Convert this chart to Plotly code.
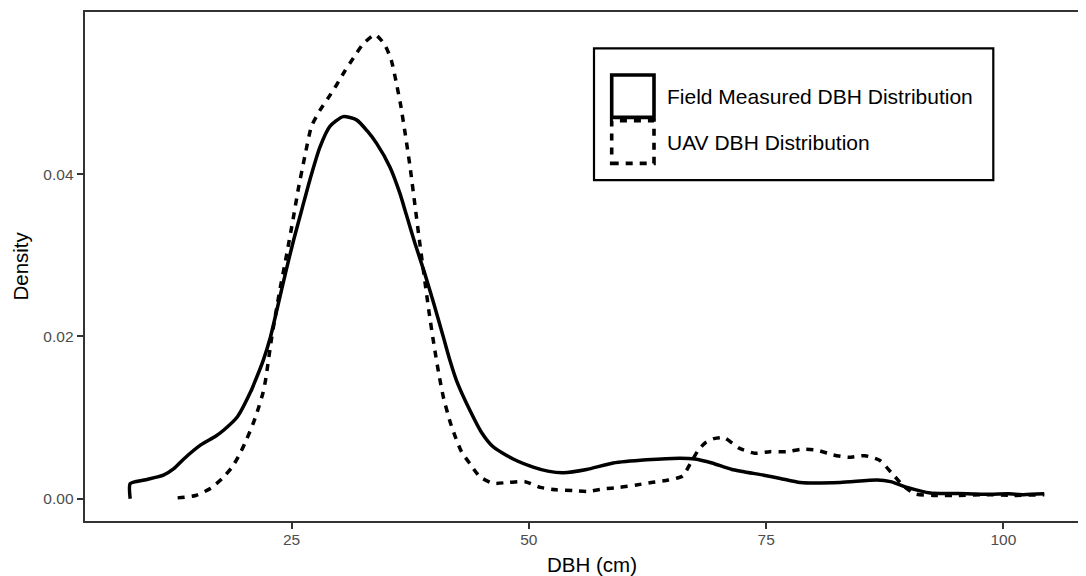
import plotly.graph_objects as go

# ---- data (kernel density curves) ----
field_x = [8.0, 8.0, 9.5, 11.5, 12.6, 13.65, 15.4, 17.0, 17.9, 19.3, 20.7, 21.2, 22.0, 22.75,
           23.6, 24.4, 25.2, 26.05, 26.93, 27.98, 29.04, 30.44, 31.85, 33.0, 33.96, 35.36,
           36.4, 37.1, 38.0, 39.0, 40.0, 41.0, 41.7, 42.37, 43.79, 45.0, 46.24, 48.35, 50.46,
           52.0, 53.62, 56.08, 58.89, 62.4, 65.9, 67.5, 69.3, 71.4, 74.75, 76.5, 78.6, 82.8,
           86.7, 88.1, 89.86, 92.3, 96.2, 98.6, 100.5, 102.1, 104.3]
field_y = [0.0, 0.00185, 0.0023, 0.0029, 0.0037, 0.0049, 0.0066, 0.0077, 0.0085, 0.0101, 0.0132,
           0.0146, 0.0170, 0.0198, 0.0240, 0.0280, 0.0318, 0.0355, 0.0393, 0.0433, 0.0459,
           0.0471, 0.0467, 0.0453, 0.0438, 0.0409, 0.0377, 0.0350, 0.0315, 0.0279, 0.0240,
           0.0199, 0.0170, 0.0146, 0.0109, 0.0082, 0.0064, 0.0049, 0.0039, 0.0034, 0.0032,
           0.0036, 0.0044, 0.0048, 0.0050, 0.0049, 0.0044, 0.0036, 0.0029, 0.0025, 0.0020,
           0.0020, 0.0023, 0.0021, 0.0014, 0.0007, 0.00062, 0.00055, 0.0006, 0.0005, 0.0006]

uav_x = [13.0, 14.9, 16.5, 17.7, 18.74, 19.63, 20.3, 21.03, 21.55, 21.98, 22.26, 22.9, 23.7,
         24.5, 25.17, 25.7, 26.4, 27.1, 28.0, 28.86, 29.74, 30.6, 31.5, 32.5, 33.8, 34.8,
         35.5, 36.0, 36.5, 37.0, 37.5, 38.0, 38.5, 39.0, 39.5, 40.0, 40.5, 41.0, 41.7, 42.2,
         42.9, 43.8, 44.85, 46.24, 47.8, 49.6, 51.2, 52.9, 54.7, 56.25, 57.8, 59.6, 61.35,
         62.9, 64.7, 66.2, 67.0, 67.8, 68.6, 69.5, 70.6, 72.2, 73.8, 75.4, 77.16, 78.74,
         80.3, 82.07, 83.65, 85.4, 87.0, 88.2, 89.45, 90.7, 92.6, 95.0, 98.0, 101.0, 104.3]
uav_y = [0.0001, 0.0004, 0.0013, 0.0025, 0.0039, 0.0057, 0.0074, 0.0095, 0.0113, 0.0130,
         0.0146, 0.0198, 0.0253, 0.0302, 0.0345, 0.0381, 0.0422, 0.0459, 0.0479, 0.0494,
         0.0510, 0.0527, 0.0543, 0.0560, 0.0572, 0.0560, 0.0541, 0.0515, 0.0485, 0.0448,
         0.0408, 0.0362, 0.0316, 0.0272, 0.0229, 0.0190, 0.0155, 0.0125, 0.0095, 0.0078,
         0.0058, 0.0043, 0.0027, 0.0019, 0.0020, 0.0021, 0.0014, 0.0011, 0.0010, 0.0009,
         0.0012, 0.0014, 0.0017, 0.0020, 0.0023, 0.0028, 0.0043, 0.0059, 0.0069, 0.0074,
         0.0075, 0.0062, 0.0056, 0.0058, 0.0058, 0.0061, 0.0060, 0.0054, 0.0051, 0.0053,
         0.0047, 0.0032, 0.0016, 0.0006, 0.0004, 0.0004, 0.0005, 0.0004, 0.0005]

series_names = ["Field Measured DBH Distribution", "UAV DBH Distribution"]
x_ticks = [25, 50, 75, 100]
y_ticks = [0.00, 0.02, 0.04]
y_tick_labels = ["0.00", "0.02", "0.04"]

# ---- layout geometry ----
# The page body has an 8px default margin, so the figure is drawn 8px right/down
# of the window corner. Positions below are given in window (screen) pixels.
OFF = 8
SW, SH = 1086, 576                      # window size
SL, SR, ST, SB = 85, 1086, 12, 520.7    # plot-area edges in window pixels
FW, FH = SW - OFF, SH - OFF             # figure size

def fx(px):
    return (px - SL) / (SR - SL)

def fy(py):
    return (SB - py) / (SB - ST)

FONT = "Liberation Sans, Arial, Helvetica, sans-serif"
DASH = "7px,7px"

fig = go.Figure()
fig.add_trace(go.Scatter(x=field_x, y=field_y, mode="lines", name=series_names[0],
                         line=dict(color="black", width=3.5, shape="spline", smoothing=0.6),
                         showlegend=False, hoverinfo="skip"))
fig.add_trace(go.Scatter(x=uav_x, y=uav_y, mode="lines", name=series_names[1],
                         line=dict(color="black", width=3.5, dash=DASH, shape="spline", smoothing=0.6),
                         showlegend=False, hoverinfo="skip"))

axis_common = dict(showgrid=False, zeroline=False, showline=True, linecolor="#333333",
                   linewidth=1.8, ticks="outside", ticklen=6.5, tickwidth=1.8,
                   tickcolor="#333333",
                   tickfont=dict(family=FONT, size=15.5, color="#4D4D4D"))

fig.update_xaxes(range=[3.24, 108.7], tickvals=x_ticks, ticktext=[str(v) for v in x_ticks],
                 mirror=True, ticklabelstandoff=-3, **axis_common)
fig.update_yaxes(range=[-0.00275, 0.0600], tickvals=y_ticks, ticktext=y_tick_labels,
                 mirror=False, ticklabelstandoff=0, **axis_common)

shapes = []
# legend box
shapes.append(dict(type="rect", xref="paper", yref="paper",
                   x0=fx(594), x1=fx(993.3), y0=fy(180), y1=fy(48.3),
                   line=dict(color="black", width=2.2), fillcolor="white", layer="above"))
# legend keys
shapes.append(dict(type="rect", xref="paper", yref="paper",
                   x0=fx(611.7), x1=fx(654), y0=fy(117.3), y1=fy(75),
                   line=dict(color="black", width=3.6), layer="above"))
shapes.append(dict(type="rect", xref="paper", yref="paper",
                   x0=fx(611.7), x1=fx(654), y0=fy(163.3), y1=fy(120.7),
                   line=dict(color="black", width=3.6, dash=DASH), layer="above"))

annotations = [
    dict(text=series_names[0], xref="paper", yref="paper", x=fx(665), y=fy(96.5),
         xanchor="left", yanchor="middle", showarrow=False,
         font=dict(family=FONT, size=21, color="black")),
    dict(text=series_names[1], xref="paper", yref="paper", x=fx(665), y=fy(142.5),
         xanchor="left", yanchor="middle", showarrow=False,
         font=dict(family=FONT, size=21, color="black")),
    dict(text="DBH (cm)", xref="paper", yref="paper", x=fx(592), y=fy(564),
         xanchor="center", yanchor="middle", showarrow=False,
         font=dict(family=FONT, size=20.5, color="black")),
    dict(text="Density", xref="paper", yref="paper", x=fx(21), y=fy(266.4),
         xanchor="center", yanchor="middle", showarrow=False, textangle=-90,
         font=dict(family=FONT, size=20.5, color="black")),
]

fig.update_layout(width=FW, height=FH,
                  margin=dict(l=SL - OFF, r=SW - SR, t=ST - OFF, b=FH - (SB - OFF), autoexpand=False),
                  paper_bgcolor="white", plot_bgcolor="white",
                  shapes=shapes, annotations=annotations, showlegend=False,
                  font=dict(family=FONT))

fig.write_html("out.html")
